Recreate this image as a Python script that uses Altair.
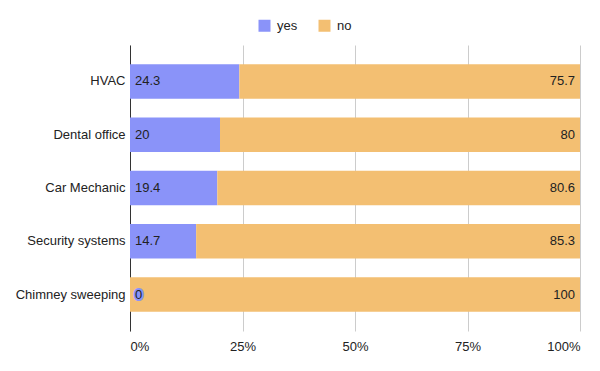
import altair as alt
import pandas as pd

categories = ["HVAC", "Dental office", "Car Mechanic", "Security systems", "Chimney sweeping"]
yes_vals = [24.3, 20, 19.4, 14.7, 0]
no_vals = [75.7, 80, 80.6, 85.3, 100]
series = ["yes", "no"]
colors = ["#8a93f9", "#f3bf72"]
ticks = [0, 25, 50, 75, 100]

FONT = "Liberation Sans, Arial, sans-serif"

rows = []
for c, y, n in zip(categories, yes_vals, no_vals):
    rows.append({"cat": c, "series": "yes", "value": y, "ord": 0})
    rows.append({"cat": c, "series": "no", "value": n, "ord": 1})
df = pd.DataFrame(rows)

base = alt.Chart(df)

yenc = alt.Y(
    "cat:N",
    sort=categories,
    scale=alt.Scale(paddingInner=0.35, paddingOuter=0.36),
    axis=alt.Axis(title=None, ticks=False, domainColor="#333333", labelPadding=5,
                  labelFontSize=13, labelFont=FONT, labelColor="#222222"),
)

bars = base.mark_bar().encode(
    x=alt.X(
        "value:Q",
        stack="zero",
        scale=alt.Scale(domain=[0, 100], nice=False),
        axis=alt.Axis(values=ticks, labelExpr="datum.value + '%'", title=None, domain=False,
                      ticks=False, grid=True, gridColor="#cccccc", labelPadding=9,
                      labelFontSize=13, labelFont=FONT, labelColor="#222222"),
    ),
    y=yenc,
    color=alt.Color(
        "series:N",
        scale=alt.Scale(domain=series, range=colors),
        legend=alt.Legend(title=None, orient="none", direction="horizontal", legendX=128,
                          legendY=-26, symbolType="square", symbolSize=144,
                          symbolStrokeWidth=0, symbolOpacity=1, labelFontSize=13,
                          labelFont=FONT, labelColor="#222222", columnPadding=20,
                          labelOffset=6),
    ),
    order=alt.Order("ord:Q"),
)

zero_halo = base.transform_filter("datum.series == 'yes' && datum.value == 0").mark_text(
    align="left", baseline="middle", dx=5, fontSize=13, font=FONT,
    color="#8a93f9", stroke="#8a93f9", strokeWidth=4, strokeJoin="round"
).encode(
    x=alt.X("zero:Q", scale=alt.Scale(domain=[0, 100], nice=False)),
    y=alt.Y("cat:N", sort=categories),
    text=alt.Text("value:Q"),
).transform_calculate(zero="0")

yes_text = base.transform_filter("datum.series == 'yes'").mark_text(
    align="left", baseline="middle", dx=5, fontSize=13, font=FONT, color="#222222"
).encode(
    x=alt.X("zero:Q", scale=alt.Scale(domain=[0, 100], nice=False)),
    y=alt.Y("cat:N", sort=categories),
    text=alt.Text("value:Q"),
).transform_calculate(zero="0")

no_text = base.transform_filter("datum.series == 'no'").mark_text(
    align="right", baseline="middle", dx=-5, fontSize=13, font=FONT, color="#222222"
).encode(
    x=alt.X("full:Q", scale=alt.Scale(domain=[0, 100], nice=False)),
    y=alt.Y("cat:N", sort=categories),
    text=alt.Text("value:Q"),
).transform_calculate(full="100")

chart = alt.layer(bars, zero_halo, yes_text, no_text).properties(
    width=450,
    height=286,
    autosize=alt.AutoSizeParams(type="none"),
    padding={"left": 122, "top": 37, "right": 12, "bottom": 32},
).configure(font=FONT).configure_view(stroke=None)

chart.save("out.html", embed_options={"renderer": "svg", "actions": False})
